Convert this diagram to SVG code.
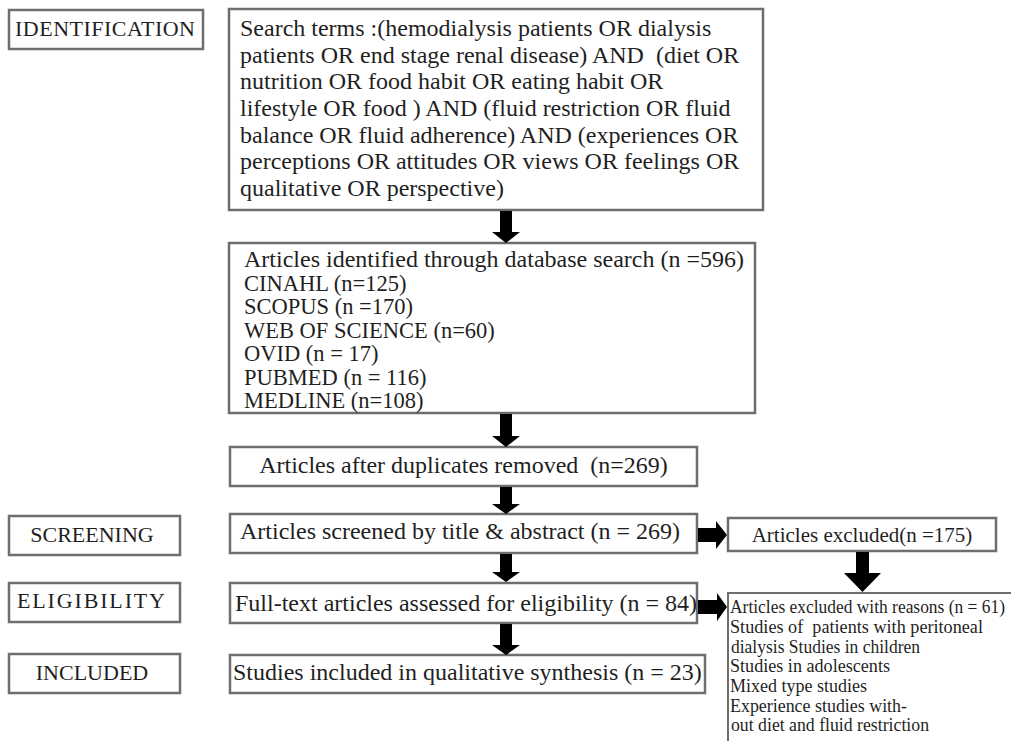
<svg xmlns="http://www.w3.org/2000/svg" width="1011" height="741" viewBox="0 0 1011 741">
<style>
.box{fill:#fff;stroke:#6e6e6e;stroke-width:2.5}
.t{font-family:"Liberation Serif","Times New Roman",serif;fill:#1f1f1f;white-space:pre}
.m{font-size:24px}
.s{font-size:22.5px}
.lab{font-size:22px}
.r{font-size:19.5px}
.arrow{fill:#000;stroke:none}
</style>
<rect width="1011" height="741" fill="#fff"/>

<g id="label-identification">
<rect class="box" x="9" y="10" width="194" height="39"/>
<text class="t lab" x="15" y="36" textLength="180">IDENTIFICATION</text>
</g>
<g id="label-screening">
<rect class="box" x="9" y="516" width="171" height="39"/>
<text class="t lab" x="92" y="542" text-anchor="middle">SCREENING</text>
</g>
<g id="label-eligibility">
<rect class="box" x="9" y="583" width="171" height="39"/>
<text class="t lab" x="17" y="608" textLength="148">ELIGIBILITY</text>
</g>
<g id="label-included">
<rect class="box" x="9" y="654" width="171" height="39"/>
<text class="t lab" x="92" y="680" text-anchor="middle">INCLUDED</text>
</g>

<g id="search-terms">
<rect class="box" x="229" y="9" width="534" height="201"/>
<text class="t m" x="240" y="36">Search terms :(hemodialysis patients OR dialysis</text>
<text class="t m" x="240" y="62.7">patients OR end stage renal disease) AND  (diet OR</text>
<text class="t m" x="240" y="89.3">nutrition OR food habit OR eating habit OR</text>
<text class="t m" x="240" y="116">lifestyle OR food ) AND (fluid restriction OR fluid</text>
<text class="t m" x="240" y="142.7">balance OR fluid adherence) AND (experiences OR</text>
<text class="t m" x="240" y="169.3">perceptions OR attitudes OR views OR feelings OR</text>
<text class="t m" x="240" y="196">qualitative OR perspective)</text>
</g>

<g id="identified">
<rect class="box" x="229" y="243" width="526" height="170"/>
<text class="t m" x="244" y="267">Articles identified through database search (n =596)</text>
<text class="t s" x="244" y="291">CINAHL (n=125)</text>
<text class="t s" x="244" y="314">SCOPUS (n =170)</text>
<text class="t s" x="244" y="338">WEB OF SCIENCE (n=60)</text>
<text class="t s" x="244" y="361">OVID (n = 17)</text>
<text class="t s" x="244" y="385">PUBMED (n = 116)</text>
<text class="t s" x="244" y="408">MEDLINE (n=108)</text>
</g>

<g id="duplicates">
<rect class="box" x="230" y="447" width="467" height="39"/>
<text class="t m" x="463.5" y="473" text-anchor="middle">Articles after duplicates removed  (n=269)</text>
</g>

<g id="screened">
<rect class="box" x="230" y="514" width="467" height="39"/>
<text class="t m" x="240" y="539">Articles screened by title &amp; abstract (n = 269)</text>
</g>

<g id="fulltext">
<rect class="box" x="230" y="583" width="467" height="40"/>
<text class="t m" x="235" y="611">Full-text articles assessed for eligibility (n = 84)</text>
</g>

<g id="included">
<rect class="box" x="230" y="655" width="475" height="38"/>
<text class="t m" x="233" y="680">Studies included in qualitative synthesis (n = 23)</text>
</g>

<g id="excluded">
<rect class="box" x="728" y="518" width="268" height="33"/>
<text class="t" style="font-size:21px" x="862" y="542" text-anchor="middle">Articles excluded(n =175)</text>
</g>

<g id="excluded-reasons">
<path d="M1011 593 H728 V741" fill="none" stroke="#6e6e6e" stroke-width="2"/>
<text class="t r" x="730" y="613" textLength="275" lengthAdjust="spacingAndGlyphs">Articles excluded with reasons (n = 61)</text>
<text class="t r" x="730" y="633" textLength="253" lengthAdjust="spacingAndGlyphs">Studies of  patients with peritoneal</text>
<text class="t r" x="731" y="653" textLength="189" lengthAdjust="spacingAndGlyphs">dialysis Studies in children</text>
<text class="t r" x="730" y="672" textLength="160" lengthAdjust="spacingAndGlyphs">Studies in adolescents</text>
<text class="t r" x="730" y="692" textLength="137" lengthAdjust="spacingAndGlyphs">Mixed type studies</text>
<text class="t r" x="730" y="712" textLength="177" lengthAdjust="spacingAndGlyphs">Experience studies with-</text>
<text class="t r" x="731" y="731" textLength="198" lengthAdjust="spacingAndGlyphs">out diet and fluid restriction</text>
</g>

<g id="connectors">
<polygon class="arrow" points="500,211 512,211 512,232 520,232 506,243 492,232 500,232"/>
<polygon class="arrow" points="500,414 512,414 512,436 520,436 506,447 492,436 500,436"/>
<polygon class="arrow" points="500,487 512,487 512,504 520,504 506,514 492,504 500,504"/>
<polygon class="arrow" points="500,554 512,554 512,572 520,572 506,582 492,572 500,572"/>
<polygon class="arrow" points="500,624 512,624 512,645 520,645 506,655 492,645 500,645"/>
<polygon class="arrow" points="698,528 716,528 716,521 727,535 716,549 716,542 698,542"/>
<polygon class="arrow" points="698,600 717,600 717,593 727,607 717,621 717,614 698,614"/>
<polygon class="arrow" points="856,552 869,552 869,573 881,573 862.5,592 844,573 856,573"/>
</g>
</svg>
